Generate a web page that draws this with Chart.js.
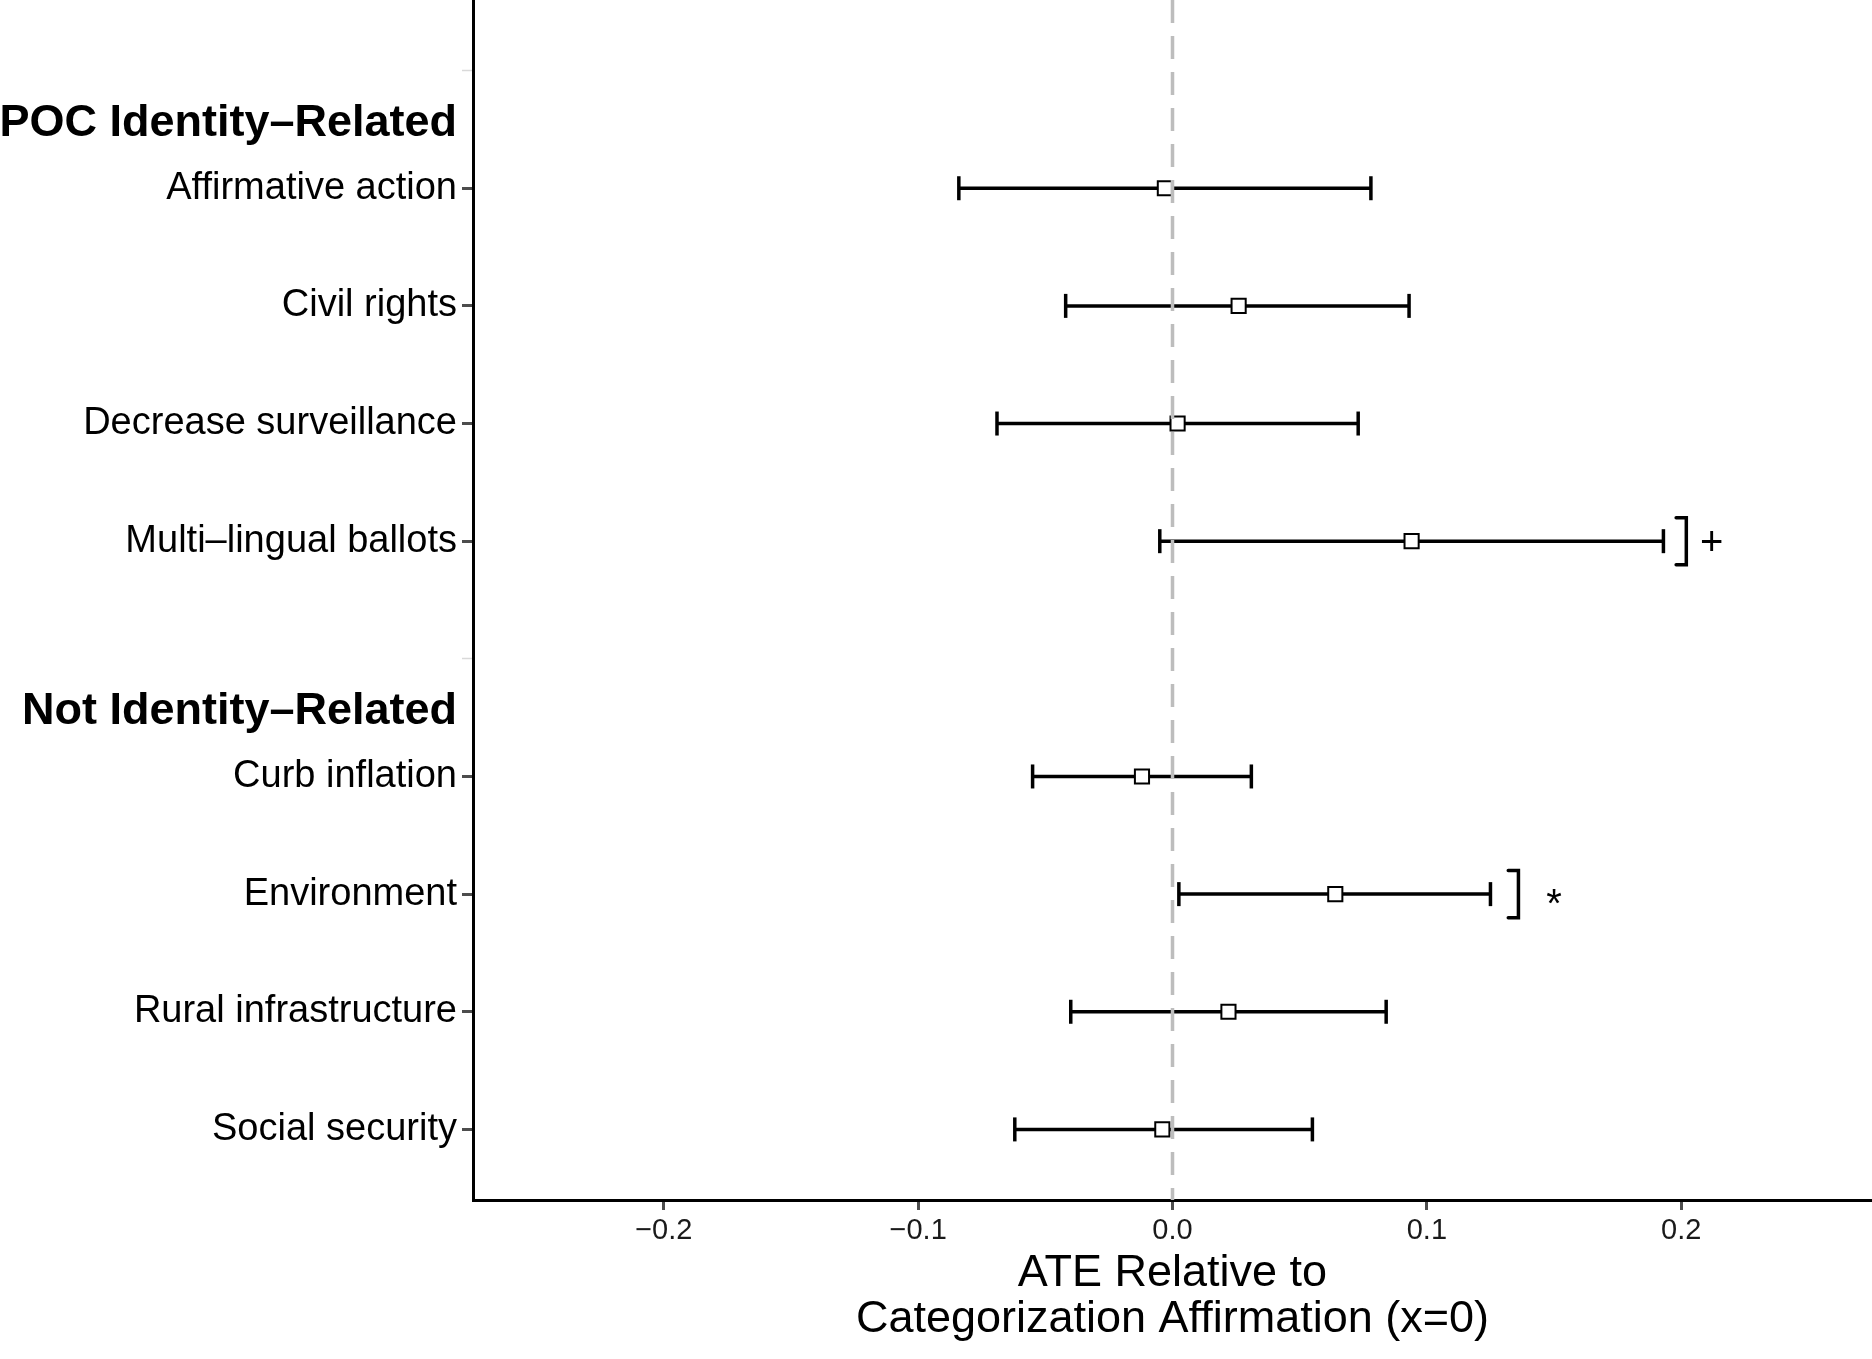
<!DOCTYPE html>
<html>
<head>
<meta charset="utf-8">
<script src="https://cdn.jsdelivr.net/npm/chart.js@4"></script>
<style>
  html, body { margin: 0; padding: 0; background: #fff; }
  #wrap { width: 1872px; height: 1359px; position: relative; }
</style>
</head>
<body>
<div id="wrap"><canvas id="ateChart"></canvas></div>
<script>
// rows from top to bottom; '' is the spacer row that carries a group header
const rowLabels = ['', 'Affirmative action', 'Civil rights', 'Decrease surveillance', 'Multi–lingual ballots',
                   '', 'Curb inflation', 'Environment', 'Rural infrastructure', 'Social security'];
const estimates = [null, -0.003, 0.026, 0.002, 0.094, null, -0.012, 0.064, 0.022, -0.004];
const lowerCI   = [null, -0.084, -0.042, -0.069, -0.005, null, -0.055, 0.0025, -0.040, -0.062];
const upperCI   = [null, 0.078, 0.093, 0.073, 0.193, null, 0.031, 0.125, 0.084, 0.055];

const groupHeaders = ['POC Identity–Related', 'Not Identity–Related'];
const groupRows = [0, 5];

// significance brackets (x in ATE units)
const sigMarks = ['', '', '', '', '+', '', '', '*', '', ''];
const bracketX = [null, null, null, null, 0.202, null, null, 0.136, null, null];
const sigTextX = [null, null, null, null, 0.212, null, null, 0.150, null, null];

const xTicks = [-0.2, -0.1, 0.0, 0.1, 0.2];

const FONT = '"Liberation Sans", Arial, Helvetica, sans-serif';
Chart.defaults.font.family = FONT;

function buildDatasets() {
    const sets = [];
    // reference line at x = 0, drawn on top
    sets.push({
        type: 'line',
        data: [{ x: 0, y: -0.6 }, { x: 0, y: 9.6 }],
        borderColor: '#bdbdbd',
        borderWidth: 3.5,
        borderDash: [23, 13],
        pointRadius: 0,
        order: 0
    });
    sets.push({
        type: 'scatter',
        data: estimates.map((v, i) => v === null ? null : { x: v, y: i }).filter(Boolean),
        pointStyle: 'rect',
        pointRadius: 10,
        pointBorderWidth: 2,
        borderColor: '#000',
        backgroundColor: '#fff',
        order: 1
    });
    rowLabels.forEach((_, i) => {
        if (estimates[i] === null) return;
        sets.push({
            type: 'line',
            data: [{ x: lowerCI[i], y: i }, { x: upperCI[i], y: i }],
            borderColor: '#000',
            borderWidth: 3.5,
            pointStyle: 'line',
            pointRotation: 90,
            pointRadius: 12,
            pointBorderWidth: 3.5,
            pointBorderColor: '#000',
            order: 2
        });
        if (bracketX[i] !== null) {
            const hook = 0.004;
            sets.push({
                type: 'line',
                data: [
                    { x: bracketX[i] - hook, y: i - 0.2 },
                    { x: bracketX[i], y: i - 0.2 },
                    { x: bracketX[i], y: i + 0.2 },
                    { x: bracketX[i] - hook, y: i + 0.2 }
                ],
                borderColor: '#000',
                borderWidth: 3.5,
                borderCapStyle: 'round',
                borderJoinStyle: 'miter',
                pointRadius: 0,
                order: 2
            });
        }
    });
    return sets;
}

// group headers and significance symbols
const annotate = {
    id: 'annotate',
    afterDatasetsDraw(chart) {
        const { ctx, chartArea, scales: { x, y } } = chart;
        ctx.save();
        ctx.fillStyle = '#000';
        ctx.textAlign = 'right';
        ctx.textBaseline = 'middle';
        ctx.font = 'bold 45px ' + FONT;
        groupHeaders.forEach((h, k) => {
            ctx.fillText(h, chartArea.left - 16, y.getPixelForValue(groupRows[k] + 0.45));
        });
        ctx.textAlign = 'center';
        ctx.textBaseline = 'alphabetic';
        const size = 40;
        ctx.font = size + 'px ' + FONT;
        sigMarks.forEach((m, i) => {
            if (!m) return;
            const lift = m === '*' ? 0.57 : 0.35;
            ctx.fillText(m, x.getPixelForValue(sigTextX[i]), y.getPixelForValue(i) + size * lift);
        });
        ctx.restore();
    }
};

function initAteChart() {
    const ctx = document.getElementById('ateChart').getContext('2d');
    new Chart(ctx, {
        type: 'scatter',
        data: { datasets: buildDatasets() },
        plugins: [annotate],
        options: {
            responsive: true,
            maintainAspectRatio: false,
            animation: false,
            events: [],
            layout: { padding: 0, autoPadding: false },
            plugins: { legend: { display: false }, tooltip: { enabled: false } },
            scales: {
                x: {
                    type: 'linear',
                    min: -0.275,
                    max: 0.275,
                    afterBuildTicks: s => { s.ticks = xTicks.map(v => ({ value: v })); },
                    afterFit: s => { s.height = 159; s.paddingLeft = 0; s.paddingRight = 0; },
                    grid: { drawOnChartArea: false, drawTicks: true, tickLength: 10, tickWidth: 3, tickColor: '#4d4d4d' },
                    border: { display: true, color: '#000', width: 3 },
                    ticks: {
                        autoSkip: false,
                        maxRotation: 0,
                        padding: 4,
                        color: '#1a1a1a',
                        font: { size: 29 },
                        callback: v => (v < 0 ? '−' : '') + Math.abs(v).toFixed(1)
                    },
                    title: {
                        display: true,
                        text: ['ATE Relative to', 'Categorization Affirmation (x=0)'],
                        color: '#000',
                        font: { size: 45, lineHeight: 1.03 },
                        padding: { top: 0, bottom: 16 }
                    }
                },
                y: {
                    type: 'linear',
                    reverse: true,
                    min: -0.6,
                    max: 9.6,
                    afterBuildTicks: s => { s.ticks = rowLabels.map((_, i) => ({ value: i })); },
                    afterFit: s => { s.width = 473; s.paddingTop = 0; s.paddingBottom = 0; },
                    grid: {
                        drawOnChartArea: false,
                        drawTicks: true,
                        tickLength: 11,
                        tickWidth: c => rowLabels[c.index] ? 3 : 1.5,
                        tickColor: c => rowLabels[c.index] ? '#4d4d4d' : '#d9d9d9'
                    },
                    border: { display: true, color: '#000', width: 3 },
                    ticks: {
                        autoSkip: false,
                        padding: 5,
                        color: '#000',
                        font: { size: 38 },
                        callback: v => rowLabels[v] || ''
                    }
                }
            }
        }
    });
}

window.onload = function() {
    initAteChart();
};
</script>
</body>
</html>
